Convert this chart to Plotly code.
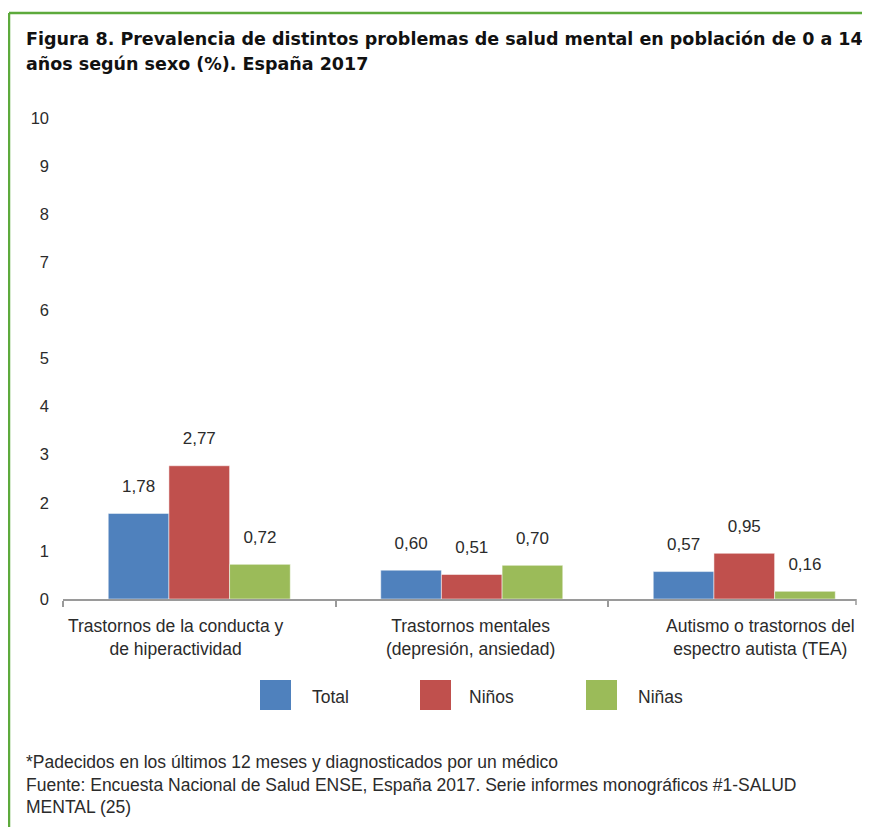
import plotly.graph_objects as go

categories = ["Trastornos de la conducta y de hiperactividad",
              "Trastornos mentales (depresión, ansiedad)",
              "Autismo o trastornos del espectro autista (TEA)"]
category_labels = ["Trastornos de la conducta y<br>de hiperactividad",
                   "Trastornos mentales<br>(depresión, ansiedad)",
                   "Autismo o trastornos del<br>espectro autista (TEA)"]
series_names = ["Total", "Niños", "Niñas"]
total = [1.78, 0.60, 0.57]
ninos = [2.77, 0.51, 0.95]
ninas = [0.72, 0.70, 0.16]
y_ticks = [0, 1, 2, 3, 4, 5, 6, 7, 8, 9, 10]

title_lines = ["Figura 8. Prevalencia de distintos problemas de salud mental en población de 0 a 14",
               "años según sexo (%). España 2017"]
foot_lines = ["*Padecidos en los últimos 12 meses y diagnosticados por un médico",
              "Fuente: Encuesta Nacional de Salud ENSE, España 2017. Serie informes monográficos #1-SALUD",
              "MENTAL (25)"]

colors = ["#4F81BD", "#C0504D", "#9BBB59"]
FONT = "Liberation Sans, Arial, sans-serif"
TFONT = "DejaVu Sans, Liberation Sans, sans-serif"
TXT = "#2b2b2b"

OFF = 8  # page body margin
W, H = 870, 827
L, R, T, B = 55, 22, 110, 236
pw, ph = W - L - R, H - T - B

def px(x):  # screen x (reference) -> paper
    return (x - OFF - L) / pw

def py(y):  # screen y (reference) -> paper
    return (H - B - (y - OFF)) / ph

fig = go.Figure()
series = [total, ninos, ninas]
for name, vals, c in zip(series_names, series, colors):
    fig.add_trace(go.Bar(x=categories, y=vals, name=name, marker_color=c,
                         marker_line=dict(color="rgba(255,255,255,0.5)", width=1),
                         showlegend=False, hoverinfo="skip"))
for name, vals in zip(series_names, series):
    fig.add_trace(go.Scatter(x=categories, y=vals, mode="markers+text",
                             text=[f"{v:.2f}".replace(".", ",") for v in vals],
                             textposition="top center",
                             marker=dict(size=26, color="rgba(0,0,0,0)"),
                             textfont=dict(size=17, color=TXT, family=FONT),
                             showlegend=False, hoverinfo="skip"))

ann = []
for line, yy in zip(title_lines, [39, 64]):
    ann.append(dict(text=line, xref="paper", yref="paper", x=px(24), y=py(yy),
                    xanchor="left", yanchor="middle", showarrow=False,
                    font=dict(size=17.5, color="#111", family=TFONT, weight="bold")))
shifts = [-23, -1, 16]
for i, lab in enumerate(category_labels):
    ann.append(dict(text=lab, xref="x", yref="paper", x=categories[i], y=py(614),
                    xanchor="center", yanchor="top", xshift=shifts[i], showarrow=False,
                    align="center", font=dict(size=17.5, color=TXT, family=FONT)))
legend_sq = [260, 420, 586]
legend_tx = [310, 467, 636]
shapes = []
for name, c, sx, tx in zip(series_names, colors, legend_sq, legend_tx):
    shapes.append(dict(type="rect", xref="paper", yref="paper",
                       x0=px(sx), x1=px(sx + 31), y0=py(710), y1=py(680),
                       fillcolor=c, line=dict(width=0)))
    ann.append(dict(text=name, xref="paper", yref="paper", x=px(tx), y=py(697),
                    xanchor="left", yanchor="middle", showarrow=False,
                    font=dict(size=17.5, color=TXT, family=FONT)))
for line, yy in zip(foot_lines, [762, 785, 807]):
    ann.append(dict(text=line, xref="paper", yref="paper", x=px(24), y=py(yy),
                    xanchor="left", yanchor="middle", showarrow=False,
                    font=dict(size=17.5, color=TXT, family=FONT)))
# closing tick at the right end of the category axis
shapes.append(dict(type="line", xref="paper", yref="paper", x0=1, x1=1,
                   y0=0, y1=-6 / ph, line=dict(color="#9a9a9a", width=1.5)))
green = "#5DAA3C"
shapes.append(dict(type="line", xref="paper", yref="paper", x0=px(9), x1=px(880),
                   y0=py(13), y1=py(13), line=dict(color=green, width=2.5)))
shapes.append(dict(type="line", xref="paper", yref="paper", x0=px(9), x1=px(9),
                   y0=py(13), y1=py(840), line=dict(color=green, width=2.5)))

fig.update_layout(
    width=W, height=H,
    margin=dict(l=L, r=R, t=T, b=B, pad=0),
    paper_bgcolor="white", plot_bgcolor="white",
    barmode="group", bargap=0.332, bargroupgap=0,
    scattermode="group", scattergap=0.332,
    separators=",.",
    font=dict(family=FONT, size=16, color=TXT),
    annotations=ann, shapes=shapes,
    showlegend=False,
)
fig.update_xaxes(type="category", range=[-0.5, 2.410], showline=True,
                 linecolor="#9a9a9a", linewidth=1.5, ticks="outside",
                 tickson="boundaries", ticklen=6, tickcolor="#9a9a9a", tickwidth=1.5,
                 showticklabels=False, showgrid=False, zeroline=False)
fig.update_yaxes(range=[0, 10], tickvals=y_ticks, ticktext=[str(v) for v in y_ticks],
                 showgrid=False, zeroline=False, showline=False, ticks="",
                 ticklabelstandoff=13, tickfont=dict(size=16.5, color=TXT, family=FONT))

fig.write_html("out.html")
